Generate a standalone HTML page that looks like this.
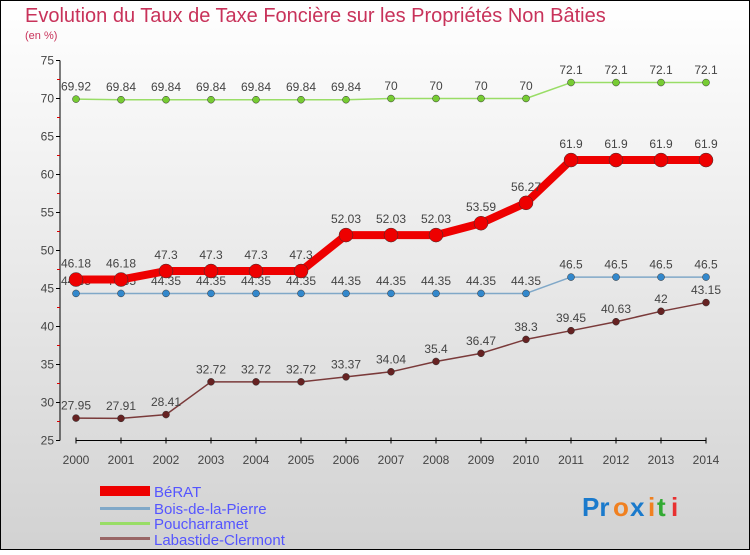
<!DOCTYPE html>
<html><head><meta charset="utf-8"><style>
body{margin:0}
svg text{font-family:"Liberation Sans",sans-serif}
</style></head><body>
<svg id="c" width="750" height="550" xmlns="http://www.w3.org/2000/svg">
<defs><linearGradient id="bg" x1="0" y1="0" x2="0" y2="1"><stop offset="0" stop-color="#ffffff"/><stop offset="1" stop-color="#d2d2d2"/></linearGradient></defs>
<rect x="0.5" y="0.5" width="749" height="549" fill="url(#bg)" stroke="#000"/>
<text x="25" y="22" font-size="20" fill="#c8325a">Evolution du Taux de Taxe Foncière sur les Propriétés Non Bâties</text>
<text x="25" y="39" font-size="11" fill="#c8325a">(en %)</text>
<g id="axes"></g><g id="series"></g>
<g>
<rect x="100" y="486" width="50" height="10" fill="#ee0000"/>
<text x="154" y="497" font-size="15" fill="#5555ff">BéRAT</text>
<rect x="100" y="507" width="50" height="3" fill="#80a8c8"/>
<text x="154" y="514" font-size="15" fill="#5555ff">Bois-de-la-Pierre</text>
<rect x="100" y="522" width="50" height="3" fill="#99dd66"/>
<text x="154" y="529" font-size="15" fill="#5555ff">Poucharramet</text>
<rect x="100" y="537" width="50" height="3" fill="#996666"/>
<text x="154" y="545" font-size="15" fill="#5555ff">Labastide-Clermont</text>
</g>
<g font-size="26" font-weight="bold">
<text x="582" y="516" fill="#1a7acc">Pr</text><text x="613" y="516" fill="#f08020">o</text><text x="630" y="516" fill="#1a7acc">x</text><text x="648" y="516" fill="#f08020">i</text><text x="657" y="516" fill="#33aa33">t</text><text x="671" y="516" fill="#e83030">i</text>
</g>
</svg>
<script>
const years=[2000,2001,2002,2003,2004,2005,2006,2007,2008,2009,2010,2011,2012,2013,2014];
const yTicks=[25,30,35,40,45,50,55,60,65,70,75];
const berat=[46.18,46.18,47.3,47.3,47.3,47.3,52.03,52.03,52.03,53.59,56.27,61.9,61.9,61.9,61.9];
const bois=[44.35,44.35,44.35,44.35,44.35,44.35,44.35,44.35,44.35,44.35,44.35,46.5,46.5,46.5,46.5];
const pouch=[69.92,69.84,69.84,69.84,69.84,69.84,69.84,70,70,70,70,72.1,72.1,72.1,72.1];
const labas=[27.95,27.91,28.41,32.72,32.72,32.72,33.37,34.04,35.4,36.47,38.3,39.45,40.63,42,43.15];
const NS="http://www.w3.org/2000/svg";
const X=i=>76+i*45, Y=v=>60.5+(75-v)*7.6;
function mk(t,a,p){const e=document.createElementNS(NS,t);for(const k in a)e.setAttribute(k,a[k]);p.appendChild(e);return e;}
const ax=document.getElementById('axes');
let l=mk('line',{x1:60,y1:Y(75),x2:60,y2:Y(25),stroke:'#000'},ax);


l=mk('line',{x1:76,y1:Y(25),x2:706,y2:Y(25),stroke:'#000'},ax);


yTicks.forEach(v=>{
 mk('line',{x1:56,x2:60,y1:Y(v),y2:Y(v),stroke:'#000'},ax);
 if(v<75)mk('line',{x1:57,x2:60,y1:Y(v+2.5),y2:Y(v+2.5),stroke:'#d00'},ax);
 const t=mk('text',{x:54,y:Y(v)+4,'font-size':12,fill:'#444','text-anchor':'end'},ax);t.textContent=v;
 
 
});
years.forEach((yr,i)=>{
 mk('line',{x1:X(i),x2:X(i),y1:Y(25)-3,y2:Y(25)+3,stroke:'#000'},ax);
 const t=mk('text',{x:X(i),y:464,'font-size':12,fill:'#444','text-anchor':'middle'},ax);t.textContent=yr;
 
 
});
const sg=document.getElementById('series');
function series(d,name,col,w,r,pc,fs){
 const g=mk('g',{},sg);
 
 
 mk('polyline',{points:d.map((v,i)=>X(i)+','+Y(v)).join(' '),fill:'none',stroke:col,'stroke-width':w,'stroke-linejoin':'round'},g);
 d.forEach((v,i)=>{
  const c=mk('circle',{cx:X(i),cy:Y(v),r:r,fill:pc,stroke:'#333','stroke-width':0.5},g);
  
  
  const t=mk('text',{x:X(i),y:Y(v)-(r+5),'font-size':12,fill:'#444','text-anchor':'middle'},g);
  t.textContent=v;
  
  
 });
}
series(pouch,'poucharramet','#99dd66',1.5,3.5,'#77cc33');
series(bois,'bois-de-la-pierre','#80a8c8',1.5,3.5,'#3388cc');
series(labas,'labastide-clermont','#7a3a3a',1.5,3.5,'#662222');
series(berat,'berat','#ee0000',8,7,'#ee0000');
</script>
</body></html>
